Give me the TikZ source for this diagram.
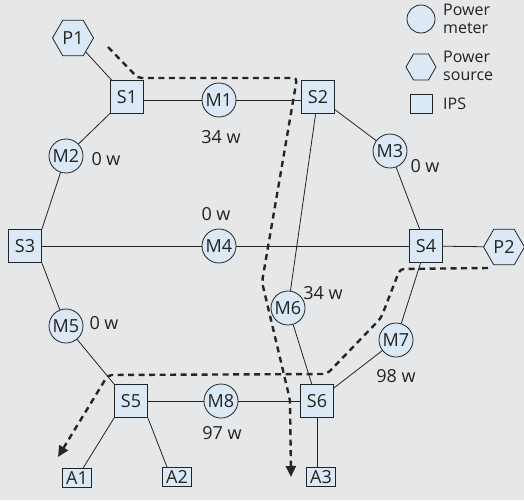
\documentclass[tikz,border=0pt]{standalone}
\usepackage{fontspec}
\setmainfont{Open Sans}
\usetikzlibrary{shapes.geometric,arrows.meta,calc}
\definecolor{bg}{RGB}{230,231,233}
\definecolor{nfill}{RGB}{218,233,245}
\definecolor{ink}{RGB}{35,35,35}
\begin{document}
\begin{tikzpicture}[x=1pt,y=-1pt,
  every node/.style={text=ink},
  base/.style={draw=ink, fill=nfill, line width=0.8pt, inner sep=0pt, font=\fontsize{18}{20}\selectfont},
  ips/.style={base, rectangle, minimum width=33pt, minimum height=33pt},
  meter/.style={base, circle, minimum size=34pt},
  src/.style={base, regular polygon, regular polygon sides=6, minimum size=41pt},
  app/.style={base, rectangle, minimum width=29pt, minimum height=19pt},
  lbl/.style={font=\fontsize{18}{20}\selectfont, inner sep=0pt},
  leg/.style={font=\fontsize{16}{18}\selectfont, inner sep=0pt, align=left, anchor=west},
  link/.style={draw=ink, line width=0.8pt},
  route/.style={draw=black!85, line width=2.4pt, dash pattern=on 6pt off 4.5pt, rounded corners=4pt, -{Triangle[length=11pt,width=10pt]}},
]
\useasboundingbox[fill=bg] (0,0) rectangle (524,500);

% nodes
\node[src] (P1) at (73,38) {P1};
\node[ips] (S1) at (127,97) {S1};
\node[meter] (M1) at (219,100) {M1};
\node[ips] (S2) at (318,97) {S2};
\node[meter] (M2) at (66,156) {M2};
\node[meter] (M3) at (390,151) {M3};
\node[ips] (S3) at (25,246) {S3};
\node[meter] (M4) at (219,246) {M4};
\node[ips] (S4) at (426,246) {S4};
\node[src] (P2) at (504,247) {P2};
\node[meter] (M5) at (66,326) {M5};
\node[meter] (M6) at (288,308) {M6};
\node[meter] (M7) at (396,340) {M7};
\node[ips] (S5) at (131,401) {S5};
\node[meter] (M8) at (221,401) {M8};
\node[ips] (S6) at (317,401) {S6};
\node[app] (A1) at (77,478) {A1};
\node[app] (A2) at (177,477) {A2};
\node[app] (A3) at (321,477) {A3};

% links
\draw[link] (P1) -- (S1);
\draw[link] (S1.east |- M1) -- (M1) -- (S2.west |- M1);
\draw[link] (S1) -- (M2);
\draw[link] (M2) -- (S3.north east);
\draw[link] (S2) -- (M3) -- (S4);
\draw[link] (S3) -- (M4) -- (S4);
\draw[link] (S4) -- (P2);
\draw[link] (S2) -- (M6) -- (S6);
\draw[link] (S4) -- (M7) -- (S6);
\draw[link] (S3.south east) -- (M5);
\draw[link] (M5) -- (S5.north west);
\draw[link] (S5) -- (M8) -- (S6);
\draw[link] (S5.south west) -- (A1);
\draw[link] (S5.south east) -- ([xshift=-10pt]A2.north);
\draw[link] (S6.south) -- (S6.south |- A3.north);

% labels
\node[lbl] (w1) at (221,137) {34 w};
\node[lbl] (w2) at (106,159) {0 w};
\node[lbl] (w3) at (425,166) {0 w};
\node[lbl] (w4) at (216,214) {0 w};
\node[lbl] (w5) at (104,323) {0 w};
\node[lbl] (w6) at (323,293) {34 w};
\node[lbl] (w7) at (396,376) {98 w};
\node[lbl] (w8) at (222,433) {97 w};

% routes
\coordinate (r1a) at (108,47);
\coordinate (r1b) at (138,78);
\coordinate (r1c) at (297,78);
\coordinate (r1d) at (262,282);
\coordinate (r1e) at (290,400);
\coordinate (r1f) at (291,477);
\draw[route] (r1a) -- (r1b) -- (r1c) -- (r1d) -- (r1e) -- (r1f);

\coordinate (r2a) at (488,268);
\coordinate (r2b) at (400,269);
\coordinate (r2c) at (381,318);
\coordinate (r2d) at (327,374);
\coordinate (r2e) at (108,375);
\coordinate (r2f) at (58,457);
\draw[route] (r2a) -- (r2b) -- (r2c) -- (r2d) -- (r2e) -- (r2f);

% legend
\node[base, circle, minimum size=28pt] (Lm) at (421,19) {};
\node[leg] (Lmt) at (443,19) {Power\\meter};
\node[base, regular polygon, regular polygon sides=6, minimum size=30pt] (Ls) at (421,67) {};
\node[leg] (Lst) at (443,66) {Power\\source};
\node[base, rectangle, minimum width=22pt, minimum height=19pt] (Li) at (421,104) {};
\node[leg] (Lit) at (443,104) {IPS};
\end{tikzpicture}
\end{document}
